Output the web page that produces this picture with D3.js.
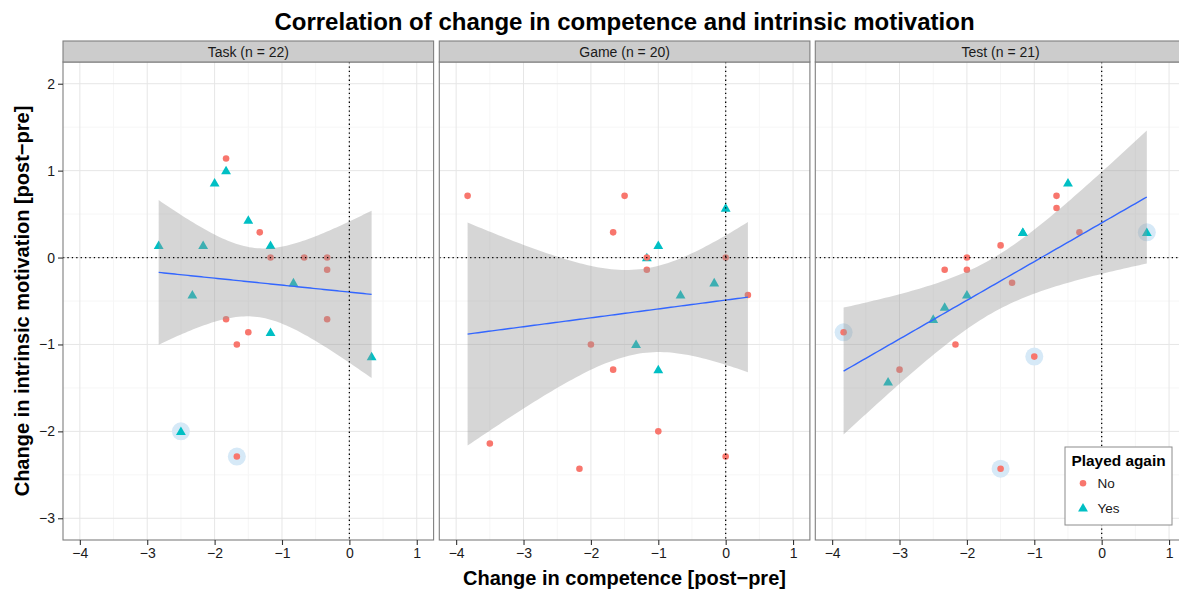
<!DOCTYPE html>
<html>
<head>
<meta charset="utf-8">
<script src="https://cdn.jsdelivr.net/npm/d3@7"></script>
<style>
  html, body { margin: 0; padding: 0; background: #fff; }
  svg { display: block; font-family: "Liberation Sans", Arial, Helvetica, sans-serif; }
</style>
</head>
<body>
<svg id="chart" width="1179" height="590"></svg>
<script>
// Facet labels and axis ticks
const facetLabels = ["Task (n = 22)", "Game (n = 20)", "Test (n = 21)"];
const xTicks = [-4, -3, -2, -1, 0, 1];
const yTicks = [-3, -2, -1, 0, 1, 2];
const groups = ["No", "Yes"];

// Task condition: change in competence (x), change in intrinsic motivation (y)
const taskX = [-1.83, -1.83, -2, -1.5, -1.33, -1.17, -2.83, -2.17, -1.17, -0.67, -0.33, -0.33, -0.83, -2.33, -1.83, -0.33, -1.5, -1.17, -1.67, 0.33, -2.5, -1.67];
const taskY = [1.14, 1, 0.86, 0.43, 0.29, 0.14, 0.14, 0.14, 0, 0, 0, -0.14, -0.29, -0.43, -0.71, -0.71, -0.86, -0.86, -1, -1.14, -2, -2.29];
const taskPlayed = ["No", "Yes", "Yes", "Yes", "No", "Yes", "Yes", "Yes", "No", "No", "No", "No", "Yes", "Yes", "No", "No", "No", "Yes", "No", "Yes", "Yes", "No"];
const taskFlagged = [0, 0, 0, 0, 0, 0, 0, 0, 0, 0, 0, 0, 0, 0, 0, 0, 0, 0, 0, 0, 1, 1];

// Game condition
const gameX = [-3.83, -1.5, 0, -1.67, -1, -1.17, -1.17, 0, -1.17, -0.17, -0.67, 0.33, -2, -1.33, -1.67, -1, -1, -3.5, 0, -2.17];
const gameY = [0.71, 0.71, 0.57, 0.29, 0.14, 0, 0, 0, -0.14, -0.29, -0.43, -0.43, -1, -1, -1.29, -1.29, -2, -2.14, -2.29, -2.43];
const gamePlayed = ["No", "No", "Yes", "No", "Yes", "Yes", "No", "No", "No", "Yes", "Yes", "No", "No", "Yes", "No", "Yes", "No", "No", "No", "No"];
const gameFlagged = [0, 0, 0, 0, 0, 0, 0, 0, 0, 0, 0, 0, 0, 0, 0, 0, 0, 0, 0, 0];

// Test condition (two respondents share the point at -1.17 / 0.29)
const testX = [-0.5, -0.67, -0.67, -1.17, -1.17, -0.33, 0.67, -1.5, -2, -2.33, -2, -1.33, -2, -2.33, -2.5, -3.83, -2.17, -1, -3, -3.17, -1.5];
const testY = [0.86, 0.71, 0.57, 0.29, 0.29, 0.29, 0.29, 0.14, 0, -0.14, -0.14, -0.29, -0.43, -0.57, -0.71, -0.86, -1, -1.14, -1.29, -1.43, -2.43];
const testPlayed = ["Yes", "No", "No", "Yes", "Yes", "No", "Yes", "No", "No", "No", "No", "No", "Yes", "Yes", "Yes", "No", "No", "No", "No", "Yes", "No"];
const testFlagged = [0, 0, 0, 0, 0, 0, 1, 0, 0, 0, 0, 0, 0, 0, 0, 1, 0, 1, 0, 0, 1];

// Student t quantiles (0.975) for the confidence band, by residual df
const tQuantile975 = { 18: 2.100922, 19: 2.093024, 20: 2.085963 };

const facets = [
  { label: facetLabels[0], x: taskX, y: taskY, played: taskPlayed, flagged: taskFlagged },
  { label: facetLabels[1], x: gameX, y: gameY, played: gamePlayed, flagged: gameFlagged },
  { label: facetLabels[2], x: testX, y: testY, played: testPlayed, flagged: testFlagged }
];

const svg = d3.select("#chart");

const panelLefts = [63, 439.3, 815.3];
const panelW = 370.6;
const panelTop = 62, panelBottom = 540;
const stripTop = 41;
const panelH = panelBottom - panelTop;

const x = d3.scaleLinear().domain([-4.25, 1.25]).range([0, panelW]);
const y = d3.scaleLinear().domain([-3.25, 2.25]).range([panelH, 0]);

const colour = d3.scaleOrdinal().domain(groups).range(["#F8766D", "#00BFC4"]);
const fmt = v => (v < 0 ? "\u2212" + Math.abs(v) : String(v));

const circleSym = d3.symbol().type(d3.symbolCircle).size(34);
const triSym = d3.symbol().type(d3.symbolTriangle).size(42);
const shape = g => (g === "No" ? circleSym() : triSym());

// Ordinary least squares with a 95% pointwise confidence band
function linearFit(xs, ys) {
  const n = xs.length;
  const mx = d3.mean(xs), my = d3.mean(ys);
  let sxx = 0, sxy = 0;
  for (let i = 0; i < n; i++) { sxx += (xs[i] - mx) ** 2; sxy += (xs[i] - mx) * (ys[i] - my); }
  const b = sxy / sxx, a = my - b * mx;
  let sse = 0;
  for (let i = 0; i < n; i++) sse += (ys[i] - a - b * xs[i]) ** 2;
  const s = Math.sqrt(sse / (n - 2));
  const t = tQuantile975[n - 2];
  const [lo, hi] = d3.extent(xs);
  return d3.range(81).map(k => {
    const xv = lo + (hi - lo) * k / 80;
    const fit = a + b * xv;
    const se = s * Math.sqrt(1 / n + (xv - mx) ** 2 / sxx);
    return { x: xv, fit, lo: fit - t * se, hi: fit + t * se };
  });
}

const defs = svg.append("defs");

facets.forEach((f, i) => {
  const g = svg.append("g").attr("transform", `translate(${panelLefts[i]},${panelTop})`);
  defs.append("clipPath").attr("id", "clip" + i)
    .append("rect").attr("width", panelW).attr("height", panelH);

  // panel background + grid
  g.append("rect").attr("width", panelW).attr("height", panelH).attr("fill", "#fff");
  const minor = d3.range(-4.5, 1.5, 1);
  const minorY = d3.range(-3.5, 2.5, 1);
  g.selectAll(".mx").data(minor.filter(v => x(v) > 0 && x(v) < panelW)).join("line")
    .attr("x1", d => x(d)).attr("x2", d => x(d)).attr("y1", 0).attr("y2", panelH)
    .attr("stroke", "#f6f6f6").attr("stroke-width", 1);
  g.selectAll(".my").data(minorY.filter(v => y(v) > 0 && y(v) < panelH)).join("line")
    .attr("y1", d => y(d)).attr("y2", d => y(d)).attr("x1", 0).attr("x2", panelW)
    .attr("stroke", "#f6f6f6").attr("stroke-width", 1);
  g.selectAll(".gx").data(xTicks).join("line")
    .attr("x1", d => x(d)).attr("x2", d => x(d)).attr("y1", 0).attr("y2", panelH)
    .attr("stroke", "#e6e6e6").attr("stroke-width", 1);
  g.selectAll(".gy").data(yTicks).join("line")
    .attr("y1", d => y(d)).attr("y2", d => y(d)).attr("x1", 0).attr("x2", panelW)
    .attr("stroke", "#e6e6e6").attr("stroke-width", 1);

  const plot = g.append("g").attr("clip-path", `url(#clip${i})`);
  const rows = f.x.map((v, k) => ({ x: v, y: f.y[k], played: f.played[k], flagged: f.flagged[k] }));

  // highlighted observations
  plot.selectAll(".halo").data(rows.filter(d => d.flagged)).join("circle")
    .attr("cx", d => x(d.x)).attr("cy", d => y(d.y)).attr("r", 9)
    .attr("fill", "#d6e9f7");

  // observations
  plot.selectAll(".pt").data(rows).join("path")
    .attr("transform", d => `translate(${x(d.x)},${y(d.y) + (d.played === "Yes" ? 0.8 : 0)})`)
    .attr("d", d => shape(d.played))
    .attr("fill", d => colour(d.played));

  // linear smooth with confidence band
  const band = linearFit(f.x, f.y);
  plot.append("path").datum(band)
    .attr("d", d3.area().x(d => x(d.x)).y0(d => y(d.lo)).y1(d => y(d.hi)))
    .attr("fill", "#999999").attr("fill-opacity", 0.4);
  plot.append("path").datum(band)
    .attr("d", d3.line().x(d => x(d.x)).y(d => y(d.fit)))
    .attr("fill", "none").attr("stroke", "#3366FF").attr("stroke-width", 1.4);

  // reference lines at zero
  plot.append("line").attr("x1", 0).attr("x2", panelW).attr("y1", y(0)).attr("y2", y(0))
    .attr("stroke", "#000").attr("stroke-width", 1.3).attr("stroke-dasharray", "1.3,3.1");
  plot.append("line").attr("x1", x(0)).attr("x2", x(0)).attr("y1", 0).attr("y2", panelH)
    .attr("stroke", "#000").attr("stroke-width", 1.3).attr("stroke-dasharray", "1.3,3.1");

  // panel border
  g.append("rect").attr("width", panelW).attr("height", panelH)
    .attr("fill", "none").attr("stroke", "#7f7f7f").attr("stroke-width", 1.1);

  // strip
  const strip = svg.append("g").attr("transform", `translate(${panelLefts[i]},${stripTop})`);
  strip.append("rect").attr("width", panelW).attr("height", panelTop - stripTop)
    .attr("fill", "#cccccc").attr("stroke", "#7f7f7f").attr("stroke-width", 1.1);
  strip.append("text").attr("x", panelW / 2).attr("y", (panelTop - stripTop) / 2 + 5)
    .attr("text-anchor", "middle").attr("font-size", 14).attr("fill", "#1a1a1a")
    .text(f.label);

  // x axis
  const xa = g.append("g").attr("transform", `translate(0,${panelH})`)
    .call(d3.axisBottom(x).tickValues(xTicks).tickSize(5).tickPadding(3).tickFormat(fmt));
  xa.select(".domain").remove();
  xa.selectAll(".tick line").attr("stroke", "#333").attr("stroke-width", 1.1);
  xa.selectAll(".tick text").attr("font-size", 14).attr("fill", "#1a1a1a")
    .attr("font-family", "Liberation Sans, Arial, sans-serif");

  if (i === 0) {
    const ya = g.append("g")
      .call(d3.axisLeft(y).tickValues(yTicks).tickSize(5).tickPadding(3).tickFormat(fmt));
    ya.select(".domain").remove();
    ya.selectAll(".tick line").attr("stroke", "#333").attr("stroke-width", 1.1);
    ya.selectAll(".tick text").attr("font-size", 14).attr("fill", "#1a1a1a")
      .attr("font-family", "Liberation Sans, Arial, sans-serif");
  }
});

// titles
svg.append("text").attr("x", 624.5).attr("y", 30).attr("text-anchor", "middle")
  .attr("font-size", 24).attr("font-weight", "bold").attr("fill", "#000")
  .text("Correlation of change in competence and intrinsic motivation");
svg.append("text").attr("x", 624.5).attr("y", 585).attr("text-anchor", "middle")
  .attr("font-size", 20).attr("font-weight", "bold").attr("fill", "#000")
  .text("Change in competence [post\u2212pre]");
svg.append("text").attr("transform", `translate(28.5,${(panelTop + panelBottom) / 2}) rotate(-90)`)
  .attr("text-anchor", "middle")
  .attr("font-size", 20).attr("font-weight", "bold").attr("fill", "#000")
  .text("Change in intrinsic motivation [post\u2212pre]");

// legend
const lg = svg.append("g").attr("transform", "translate(1065,447)");
lg.append("rect").attr("width", 107).attr("height", 78)
  .attr("fill", "#fff").attr("stroke", "#8c8c8c").attr("stroke-width", 1);
lg.append("text").attr("x", 6.5).attr("y", 18.5).attr("font-size", 15.4).attr("font-weight", "bold")
  .text("Played again");
groups.forEach((grp, k) => {
  const yy = 36.3 + k * 24.5;
  lg.append("path").attr("transform", `translate(18,${yy + (grp === "Yes" ? 0.8 : 0)})`)
    .attr("d", shape(grp)).attr("fill", colour(grp));
  lg.append("text").attr("x", 32.5).attr("y", yy + 4.8).attr("font-size", 13.5).attr("fill", "#1a1a1a")
    .text(grp);
});
</script>
</body>
</html>
